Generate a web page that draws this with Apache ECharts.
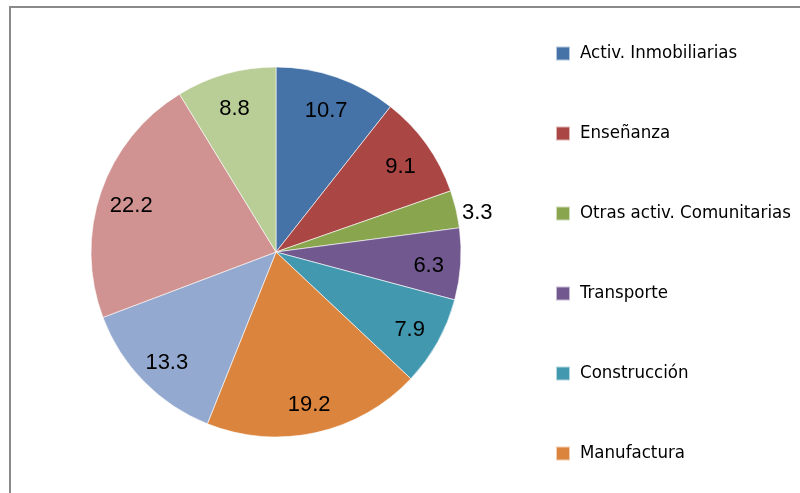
<!DOCTYPE html>
<html>
<head>
<meta charset="utf-8">
<script src="https://cdn.jsdelivr.net/npm/echarts@6/dist/echarts.min.js"></script>
<style>
  html, body { margin: 0; padding: 0; background: #fff; }
  #chart { width: 800px; height: 493px; }
</style>
</head>
<body>
<div id="chart"></div>
<script>
// sectores y porcentajes
var sectores = ['Activ. Inmobiliarias', 'Enseñanza', 'Otras activ. Comunitarias', 'Transporte',
                'Construcción', 'Manufactura', 'Comercio', 'Agricultura', 'Otros'];
var valores = [10.7, 9.1, 3.3, 6.3, 7.9, 19.2, 13.3, 22.2, 8.8];
var colores = ['#4572A7', '#AA4643', '#89A54E', '#71588F', '#4198AF', '#DB843D', '#93A9CF', '#D19392', '#B9CD96'];
var etiquetaFuera = [2]; // el 3.3 va fuera del sector

var myChart = echarts.init(document.getElementById('chart'));

var datos = sectores.map(function (n, i) {
    var d = { name: n, value: valores[i], itemStyle: { color: colores[i] } };
    if (etiquetaFuera.indexOf(i) >= 0) {
        d.label = { show: true, position: 'outside', offset: [0, 4] };
    }
    return d;
});

var datosEtiquetas = sectores.map(function (n, i) {
    var d = { name: n, value: valores[i] };
    if (etiquetaFuera.indexOf(i) >= 0) d.label = { show: false };
    return d;
});

var fuenteEtiqueta = { fontFamily: 'Liberation Sans', fontSize: 22, color: '#000' };

option = {
    backgroundColor: '#fff',
    animation: false,
    graphic: [{
        type: 'rect',
        shape: { x: 10, y: 7, width: 900, height: 600 },
        style: { fill: 'none', stroke: '#8a8a8a', lineWidth: 2 },
        silent: true
    }],
    legend: {
        orient: 'vertical',
        left: 550,
        top: 39,
        data: sectores.slice(0, 6),
        icon: 'rect',
        itemWidth: 14,
        itemHeight: 14,
        itemGap: 61,
        selectedMode: false,
        textStyle: {
            fontFamily: 'Liberation Sans Narrow, DejaVu Sans Condensed, sans-serif',
            fontSize: 18.5,
            lineHeight: 14,
            color: '#000',
            padding: [0, 0, 0, 5]
        }
    },
    series: [
        {
            name: 'sectores',
            type: 'pie',
            center: [276, 252],
            radius: [0, 185],
            startAngle: 90,
            clockwise: true,
            silent: true,
            itemStyle: { borderColor: 'rgba(255,255,255,0.6)', borderWidth: 1 },
            label: Object.assign({ show: false, formatter: '{c}' }, fuenteEtiqueta),
            labelLine: { show: false, length: 1, length2: 0 },
            data: datos
        },
        {
            // serie transparente solo para colocar las etiquetas dentro
            name: 'etiquetas',
            type: 'pie',
            center: [276, 256],
            radius: [115, 185],
            startAngle: 90,
            clockwise: true,
            silent: true,
            itemStyle: { color: 'rgba(0,0,0,0)' },
            label: Object.assign({ show: true, position: 'inside', formatter: '{c}' }, fuenteEtiqueta),
            labelLine: { show: false },
            data: datosEtiquetas
        }
    ]
};

myChart.setOption(option);
</script>
</body>
</html>
